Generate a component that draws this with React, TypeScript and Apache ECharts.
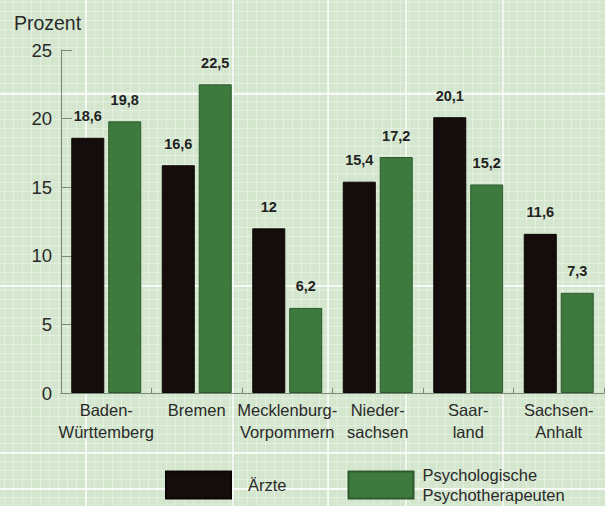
import React, { useEffect, useRef } from "react";
import * as echarts from "echarts";

const categories = [
  "Baden-\nWürttemberg",
  "Bremen",
  "Mecklenburg-\nVorpommern",
  "Nieder-\nsachsen",
  "Saar-\nland",
  "Sachsen-\nAnhalt",
];
const aerzte = [18.6, 16.6, 12, 15.4, 20.1, 11.6];
const psychotherapeuten = [19.8, 22.5, 6.2, 17.2, 15.2, 7.3];
const seriesNames = ["Ärzte", "Psychologische\nPsychotherapeuten"];
const yTicks = { min: 0, max: 25, interval: 5 };

const FONT = "'Liberation Sans', Arial, Helvetica, sans-serif";

export default function App() {
  const ref = useRef<HTMLDivElement>(null);
  useEffect(() => {
    if (!ref.current) return;
    const chart = echarts.init(ref.current, undefined, { renderer: "svg" });
    const labelFmt = (p: any) => String(p.value).replace(".", ",");
    const valueLabel = {
      show: true,
      position: "top" as const,
      distance: 14,
      formatter: labelFmt,
      fontFamily: FONT,
      fontSize: 14.5,
      fontWeight: "bold" as const,
      color: "#222",
    };
    chart.setOption({
      animation: false,
      backgroundColor: "transparent",
      textStyle: { fontFamily: FONT },
      grid: { left: 61, right: 1, top: 50, bottom: 113, containLabel: false },
      legend: {
        left: 165,
        top: 463,
        padding: 0,
        itemWidth: 65,
        itemHeight: 27,
        itemGap: 61,
        icon: "rect",
        selectedMode: false,
        textStyle: {
          fontFamily: FONT,
          fontSize: 16.5,
          color: "#2a2a2a",
          lineHeight: 20,
        },
        data: [
          { name: seriesNames[0], textStyle: { padding: [0, 0, 0, 12] } },
          { name: seriesNames[1], textStyle: { padding: [4, 0, 0, 4] } },
        ],
      },
      xAxis: {
        type: "category",
        data: categories,
        axisLine: { lineStyle: { color: "#7a8a78", width: 1 } },
        axisTick: { show: true, inside: true, length: 5, alignWithLabel: false, lineStyle: { color: "#7a8a78" } },
        axisLabel: {
          interval: 0,
          margin: 6,
          fontFamily: FONT,
          fontSize: 16.5,
          lineHeight: 22,
          color: "#2a2a2a",
        },
      },
      yAxis: {
        type: "value",
        min: yTicks.min,
        max: yTicks.max,
        interval: yTicks.interval,
        name: "Prozent",
        nameLocation: "end",
        nameGap: 17,
        nameTextStyle: {
          fontFamily: FONT,
          fontSize: 19.5,
          color: "#2a2a2a",
          align: "center",
          padding: [0, 27, 0, 0],
        },
        axisLine: { show: true, lineStyle: { color: "#7a8a78", width: 1 } },
        axisTick: { show: true, inside: true, length: 11, lineStyle: { color: "#7a8a78" } },
        axisLabel: { margin: 9, fontFamily: FONT, fontSize: 18.5, color: "#2a2a2a" },
        splitLine: { show: false },
      },
      series: [
        {
          name: seriesNames[0],
          type: "bar",
          data: aerzte,
          barWidth: 33,
          barGap: "12%",
          itemStyle: { color: "#140d0b", borderColor: "#0a0605", borderWidth: 1 },
          label: valueLabel,
        },
        {
          name: seriesNames[1],
          type: "bar",
          data: psychotherapeuten,
          barWidth: 33,
          barGap: "12%",
          itemStyle: { color: "#3e7a3d", borderColor: "#2c5a2c", borderWidth: 1 },
          label: valueLabel,
        },
      ],
    });
    return () => chart.dispose();
  }, []);

  const hMajors = [93, 285, 452, 488];
  const vMajors = [85, 232, 327, 405, 502];
  const layers: string[] = [];
  const sizes: string[] = [];
  const positions: string[] = [];
  const repeats: string[] = [];
  hMajors.forEach((y) => {
    layers.push("linear-gradient(rgba(255,255,255,0.8), rgba(255,255,255,0.8))");
    sizes.push("100% 2px");
    positions.push(`0 ${y}px`);
    repeats.push("no-repeat");
  });
  vMajors.forEach((x) => {
    layers.push("linear-gradient(rgba(255,255,255,0.7), rgba(255,255,255,0.7))");
    sizes.push("2px 100%");
    positions.push(`${x}px 0`);
    repeats.push("no-repeat");
  });
  layers.push("linear-gradient(to bottom, rgba(255,255,255,0.32) 1px, transparent 1px)");
  sizes.push("100% 9px");
  positions.push("0 2px");
  repeats.push("repeat");
  layers.push("linear-gradient(to right, rgba(255,255,255,0.32) 1px, transparent 1px)");
  sizes.push("9px 100%");
  positions.push("4px 0");
  repeats.push("repeat");

  const bg: React.CSSProperties = {
    position: "fixed",
    left: 0,
    top: 0,
    width: 605,
    height: 506,
    backgroundColor: "#d4e6ce",
    backgroundImage: layers.join(","),
    backgroundSize: sizes.join(","),
    backgroundPosition: positions.join(","),
    backgroundRepeat: repeats.join(","),
  };

  return (
    <div style={bg}>
      <div ref={ref} style={{ width: 605, height: 506 }} />
    </div>
  );
}
